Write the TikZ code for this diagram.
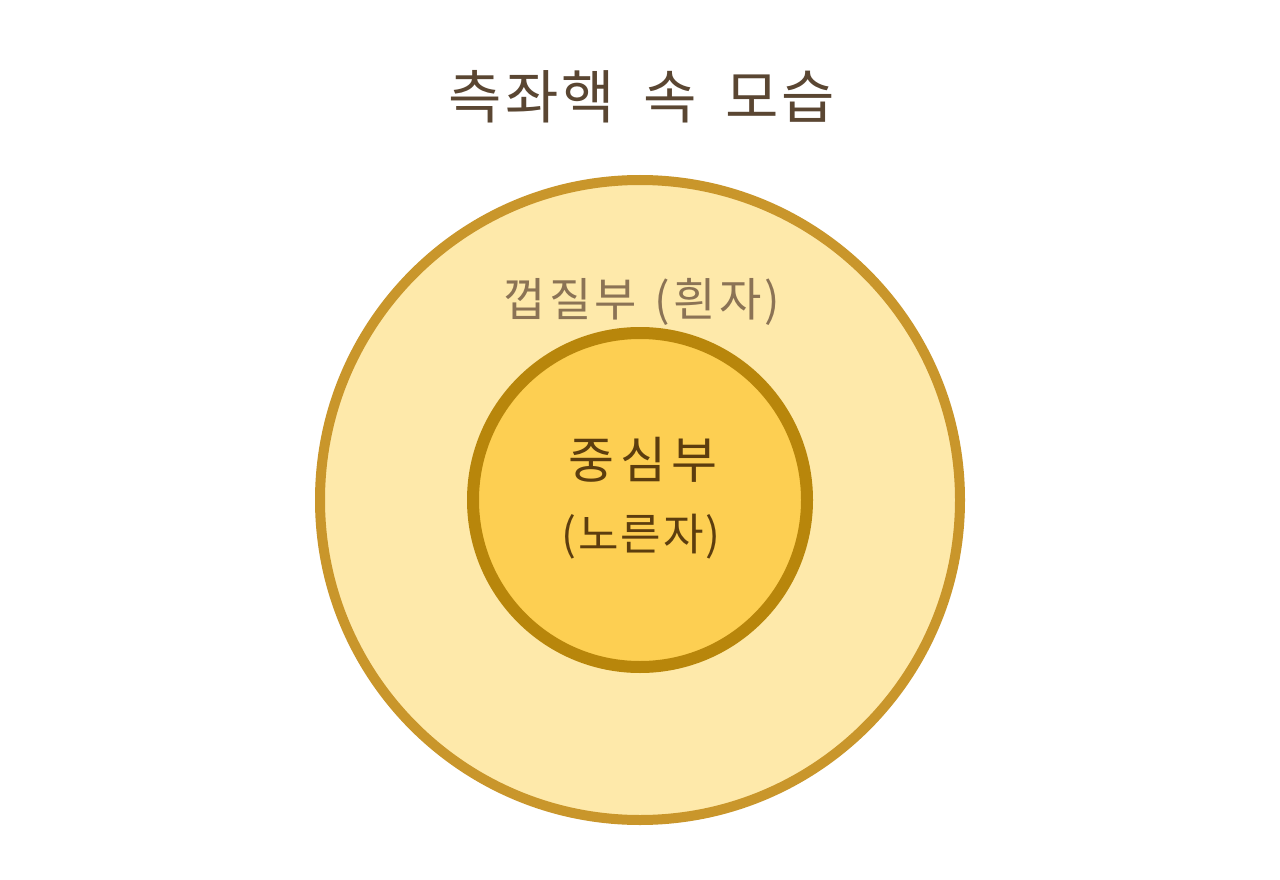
\documentclass[tikz,border=0pt]{standalone}
\usepackage{fontspec}
\newfontfamily\kofont{Noto Sans CJK KR}
\newfontfamily\kotitlefont[LetterSpace=5,WordSpace=1.8]{Noto Sans CJK KR}
\newfontfamily\koshellfont[LetterSpace=7,WordSpace=1.3]{Noto Sans CJK KR}
\definecolor{shellfill}{HTML}{FEE9AA}
\definecolor{shelldraw}{HTML}{C9962B}
\definecolor{corefill}{HTML}{FDCF52}
\definecolor{coredraw}{HTML}{B8860B}
\definecolor{titletext}{HTML}{5A4632}
\definecolor{shelltext}{HTML}{8B7355}
\definecolor{coretext}{HTML}{5C3D0E}
\tikzset{
  label text/.style={inner sep=0pt, anchor=center},
}
\begin{document}
\begin{tikzpicture}[x=1pt, y=-1pt]
  \useasboundingbox (0,0) rectangle (1280,880);
  \fill[white] (0,0) rectangle (1280,880);

  % circles
  \draw[shelldraw, fill=shellfill, line width=10pt] (640,500) circle (320);
  \draw[coredraw, fill=corefill, line width=12pt] (640,500) circle (167);

  % labels
  \node[label text, text=titletext, font=\kotitlefont\fontsize{58}{60}\selectfont] (title) at (642,97) {측좌핵 속 모습};
  \node[label text, text=shelltext, font=\koshellfont\fontsize{46}{50}\selectfont] (shell) at (642,302) {껍질부 (흰자)};
  \node[label text, text=coretext, font=\kofont\fontsize{50}{54}\selectfont\addfontfeatures{LetterSpace=11}] (core) at (643,460) {중심부};
  \node[label text, text=coretext, font=\kofont\fontsize{44}{48}\selectfont\addfontfeatures{LetterSpace=4}] (yolk) at (641,537) {(노른자)};
\end{tikzpicture}
\end{document}
